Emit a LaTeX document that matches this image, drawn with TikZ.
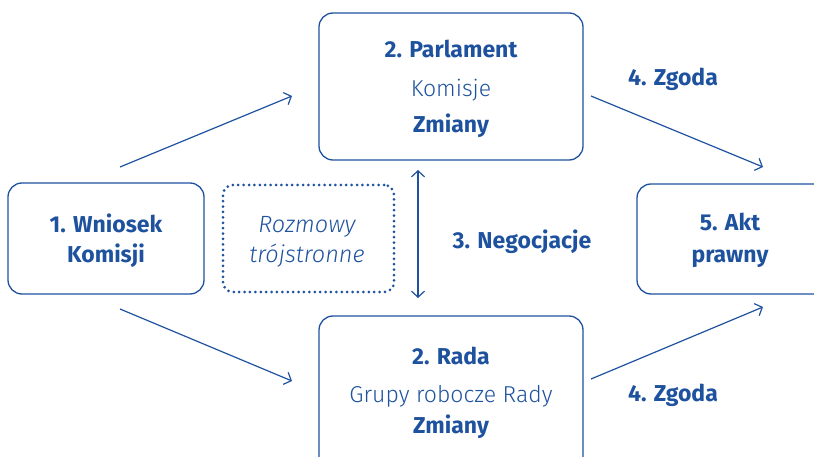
\documentclass[tikz,border=0pt]{standalone}
\usepackage{fontspec}
\setmainfont{Fira Sans}
\newfontfamily\lightfont{Fira Sans Light}
\usetikzlibrary{arrows.meta}
\definecolor{eublue}{RGB}{30,82,158}
\begin{document}
\begin{tikzpicture}[x=1pt,y=-1pt,
  box/.style={draw=eublue,line width=1.3pt,rounded corners=14pt,inner sep=0pt},
  dotbox/.style={draw=eublue,line width=3pt,dash pattern=on 0pt off 5.4pt,line cap=round,rounded corners=10pt,inner sep=0pt},
  bt/.style={font=\fontsize{23}{27}\selectfont\bfseries,text=eublue,inner sep=0pt,anchor=base},
  lt/.style={font=\fontsize{23}{27}\selectfont\lightfont,text=eublue,inner sep=0pt,anchor=base},
  it/.style={font=\fontsize{23.5}{27}\selectfont\lightfont\itshape,text=eublue,inner sep=0pt,anchor=base},
  arr/.style={draw=eublue,line width=1.2pt,-{Straight Barb[length=6pt,width=13pt,line width=1.2pt]}},
  darr/.style={draw=eublue,line width=1.2pt,{Straight Barb[length=6pt,width=13pt,line width=1.2pt]}-{Straight Barb[length=6pt,width=13pt,line width=1.2pt]}}]
\useasboundingbox (0,0) rectangle (814,457);
\begin{scope}
\clip (0,0) rectangle (814,457);
\node[box,minimum width=196pt,minimum height=111pt] (wniosek) at (106,238.5) {};
\node[dotbox,minimum width=171pt,minimum height=107pt] (rozmowy) at (308.5,238.5) {};
\node[box,minimum width=264pt,minimum height=147pt] (parl) at (451,86.5) {};
\node[box,minimum width=264pt,minimum height=170pt] (rada) at (451,401) {};
\node[box,minimum width=213pt,minimum height=110pt] (akt) at (743.5,239) {};
\end{scope}
% texts
\node[bt] (t1a) at (106,233) {1. Wniosek};
\node[bt] (t1b) at (106,262) {Komisji};
\node[it] (tr1) at (307,233) {Rozmowy};
\node[it] (tr2) at (307,262) {trójstronne};
\node[bt] (tp1) at (451,58) {2. Parlament};
\node[lt] (tp2) at (451,97) {Komisje};
\node[bt] (tp3) at (451,133) {Zmiany};
\node[bt] (tr1b) at (451,364) {2. Rada};
\node[lt] (tr2b) at (451,402) {Grupy robocze Rady};
\node[bt] (tr3b) at (451,433) {Zmiany};
\node[bt] (neg) at (522,249) {3. Negocjacje};
\node[bt] (zg1) at (673,86) {4. Zgoda};
\node[bt] (zg2) at (673,401) {4. Zgoda};
\node[bt] (a1) at (730,231) {5. Akt};
\node[bt] (a2) at (730,262) {prawny};
% arrows
\coordinate (w1) at (120,167);
\coordinate (p1) at (292,96);
\coordinate (w2) at (120,309);
\coordinate (r1) at (292,381);
\coordinate (p2) at (591,96);
\coordinate (k1) at (763,167);
\coordinate (r2) at (591,379);
\coordinate (k2) at (763,307);
\coordinate (n1) at (418,170);
\coordinate (n2) at (418,298);
\draw[arr] (w1) -- (p1);
\draw[arr] (w2) -- (r1);
\draw[arr] (p2) -- (k1);
\draw[arr] (r2) -- (k2);
\draw[darr] (n1) -- (n2);
\end{tikzpicture}
\end{document}
